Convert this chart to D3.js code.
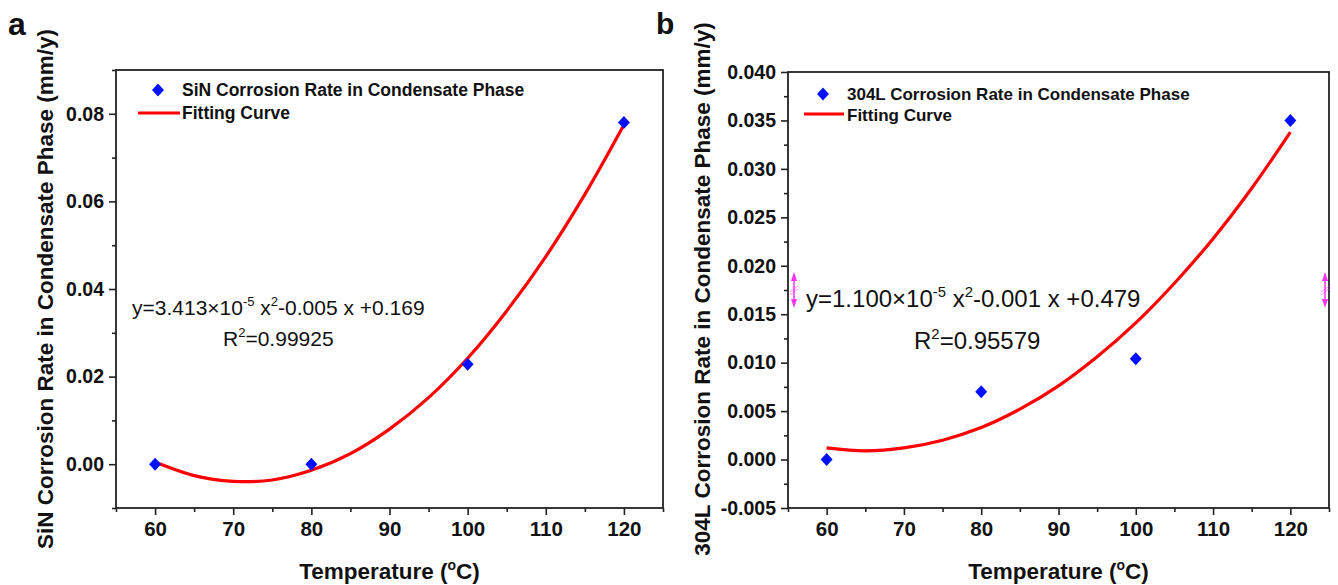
<!DOCTYPE html>
<html>
<head>
<meta charset="utf-8">
<script src="https://cdn.jsdelivr.net/npm/d3@7"></script>
<style>
  body { margin: 0; background: #fff; }
  svg text { font-family: "Liberation Sans", Arial, sans-serif; fill: #111; }
</style>
</head>
<body>
<div id="plot"></div>
<script>
var tempC = [60, 80, 100, 120];
var sinRate = [0.000, 0.000, 0.0228, 0.0780];
var l304Rate = [0.000, 0.0070, 0.0104, 0.0350];

// fitting curves, read every 5 degrees
var fitTemp = [60, 65, 70, 75, 80, 85, 90, 95, 100, 105, 110, 115, 120];
var sinFit = [0.0005, -0.0026, -0.0039, -0.0036, -0.0014, 0.0024, 0.0080, 0.0152, 0.0242, 0.0350, 0.0474, 0.0616, 0.0775];
var l304Fit = [0.0012, 0.0009, 0.0012, 0.0020, 0.0033, 0.0052, 0.0076, 0.0106, 0.0141, 0.0182, 0.0228, 0.0280, 0.0338];

// ticks
var xTicks = [60, 70, 80, 90, 100, 110, 120];
var xMinor = [55, 65, 75, 85, 95, 105, 115, 125];
var sinYTicks = [0.00, 0.02, 0.04, 0.06, 0.08];
var sinYMinor = [-0.01, 0.01, 0.03, 0.05, 0.07, 0.09];
var l304YTicks = [-0.005, 0.000, 0.005, 0.010, 0.015, 0.020, 0.025, 0.030, 0.035, 0.040];
var l304YMinor = [-0.0025, 0.0025, 0.0075, 0.0125, 0.0175, 0.0225, 0.0275, 0.0325, 0.0375];

var svg = d3.select('#plot')
  .append('svg')
  .attr('width', 1338)
  .attr('height', 585);

var panels = [
  {letter: 'a', lx: 8, ly: 35, lsize: 32,
   left: 116, right: 663, top: 70, bottom: 508,
   yDomain: [-0.01, 0.09], yTicks: sinYTicks, yMinor: sinYMinor, dec: 2,
   values: sinRate, fit: sinFit,
   ylabel: 'SiN Corrosion Rate in Condensate Phase (mm/y)', ylx: 45,
   legend: 'SiN Corrosion Rate in Condensate Phase', legSize: 17.5,
   legDiamond: [158, 90], legLine: [138, 180, 113], legText: 182, legY2: 113,
   eq: ['y=3.413\u00d710', '-5', ' x', '2', '-0.005 x +0.169'], eqX: 132, eqY: 315, eqSize: 21,
   r2: '0.99925', r2X: 223, r2Y: 346},
  {letter: 'b', lx: 656, ly: 34, lsize: 30,
   left: 788, right: 1329, top: 72, bottom: 508,
   yDomain: [-0.005, 0.040], yTicks: l304YTicks, yMinor: l304YMinor, dec: 3,
   values: l304Rate, fit: l304Fit,
   ylabel: '304L Corrosion Rate in Condensate Phase (mm/y)', ylx: 702,
   legend: '304L Corrosion Rate in Condensate Phase', legSize: 17,
   legDiamond: [823, 94], legLine: [804, 844, 114], legText: 847, legY2: 115,
   eq: ['y=1.100\u00d710', '-5', ' x', '2', '-0.001 x +0.479'], eqX: 806, eqY: 307, eqSize: 24,
   r2: '0.95579', r2X: 914, r2Y: 349}
];

function diamond(s) {
  return 'M0,' + (-s) + 'L' + (s * 0.92) + ',0L0,' + s + 'L' + (-s * 0.92) + ',0Z';
}

// text with superscript pieces: parts alternate normal / superscript
function supText(sel, parts, size) {
  var shift = size * 0.42;
  parts.forEach(function(p, i) {
    var sup = i % 2 === 1;
    sel.append('tspan')
      .attr('font-size', sup ? size * 0.62 : size)
      .attr('dy', i === 0 ? 0 : (sup ? -shift : shift))
      .text(p);
  });
}

panels.forEach(function(p) {
  var x = d3.scaleLinear().domain([55, 125]).range([p.left, p.right]);
  var y = d3.scaleLinear().domain(p.yDomain).range([p.bottom, p.top]);
  var g = svg.append('g');

  // panel letter
  g.append('text')
    .attr('x', p.lx).attr('y', p.ly)
    .attr('font-size', p.lsize).attr('font-weight', 'bold')
    .text(p.letter);

  // axes
  var xAxis = g.append('g')
    .attr('transform', 'translate(0,' + p.bottom + ')')
    .call(d3.axisBottom(x).tickValues(xTicks).tickSize(7).tickPadding(6).tickFormat(d3.format('d')));
  g.append('g')
    .attr('transform', 'translate(0,' + p.bottom + ')')
    .call(d3.axisBottom(x).tickValues(xMinor).tickSize(4).tickFormat(''));
  var yAxis = g.append('g')
    .attr('transform', 'translate(' + p.left + ',0)')
    .call(d3.axisLeft(y).tickValues(p.yTicks).tickSize(7).tickPadding(5)
      .tickFormat(function(d) { return d.toFixed(p.dec); }));
  g.append('g')
    .attr('transform', 'translate(' + p.left + ',0)')
    .call(d3.axisLeft(y).tickValues(p.yMinor).tickSize(4).tickFormat(''));

  g.selectAll('.domain').remove();
  g.selectAll('.tick line').attr('stroke', '#222').attr('stroke-width', 1.6);
  xAxis.selectAll('text')
    .attr('font-size', 20.5).attr('font-weight', 'bold')
    .attr('font-family', '"Liberation Sans", Arial, sans-serif').attr('fill', '#111');
  yAxis.selectAll('text')
    .attr('font-size', 19.5).attr('font-weight', 'bold')
    .attr('font-family', '"Liberation Sans", Arial, sans-serif').attr('fill', '#111');

  // frame
  g.append('rect')
    .attr('x', p.left).attr('y', p.top)
    .attr('width', p.right - p.left).attr('height', p.bottom - p.top)
    .attr('fill', 'none').attr('stroke', '#222').attr('stroke-width', 1.8);

  // axis titles
  var xt = g.append('text')
    .attr('x', (p.left + p.right) / 2).attr('y', 579)
    .attr('text-anchor', 'middle')
    .attr('font-size', 22.5).attr('font-weight', 'bold');
  supText(xt, ['Temperature (', 'o', 'C)'], 22.5);

  g.append('text')
    .attr('transform', 'translate(' + p.ylx + ',' + 289 + ') rotate(-90)')
    .attr('text-anchor', 'middle').attr('dominant-baseline', 'central')
    .attr('font-size', 22.5).attr('font-weight', 'bold')
    .text(p.ylabel);

  // fitting curve
  var line = d3.line()
    .x(function(d, i) { return x(fitTemp[i]); })
    .y(function(d) { return y(d); })
    .curve(d3.curveCatmullRom);
  g.append('path')
    .datum(p.fit)
    .attr('d', line)
    .attr('fill', 'none').attr('stroke', '#f00').attr('stroke-width', 3.2);

  // data points
  g.selectAll('.pt')
    .data(p.values)
    .enter().append('path')
    .attr('class', 'pt')
    .attr('transform', function(d, i) { return 'translate(' + x(tempC[i]) + ',' + y(d) + ')'; })
    .attr('d', diamond(6.5))
    .attr('fill', '#0010ff');

  // legend
  g.append('path')
    .attr('transform', 'translate(' + p.legDiamond[0] + ',' + p.legDiamond[1] + ')')
    .attr('d', diamond(6.5)).attr('fill', '#0010ff');
  g.append('text')
    .attr('x', p.legText).attr('y', p.legDiamond[1])
    .attr('dominant-baseline', 'central')
    .attr('font-size', p.legSize).attr('font-weight', 'bold')
    .text(p.legend);
  g.append('line')
    .attr('x1', p.legLine[0]).attr('x2', p.legLine[1])
    .attr('y1', p.legLine[2]).attr('y2', p.legLine[2])
    .attr('stroke', '#f00').attr('stroke-width', 3.2);
  g.append('text')
    .attr('x', p.legText).attr('y', p.legY2)
    .attr('dominant-baseline', 'central')
    .attr('font-size', p.legSize).attr('font-weight', 'bold')
    .text('Fitting Curve');

  // equation
  var eq = g.append('text')
    .attr('x', p.eqX).attr('y', p.eqY)
    .attr('font-size', p.eqSize);
  supText(eq, p.eq, p.eqSize);
  var r2 = g.append('text')
    .attr('x', p.r2X).attr('y', p.r2Y)
    .attr('font-size', p.eqSize);
  supText(r2, ['R', '2', '=' + p.r2], p.eqSize);
});

// small magenta layer markers on panel b
[794, 1325].forEach(function(mx) {
  var m = svg.append('g').attr('stroke', '#ff33ff').attr('fill', '#ff33ff');
  m.append('line').attr('x1', mx).attr('x2', mx).attr('y1', 276).attr('y2', 304).attr('stroke-width', 1.5);
  m.append('path').attr('d', 'M' + (mx - 3) + ',281L' + mx + ',272L' + (mx + 3) + ',281Z').attr('stroke', 'none');
  m.append('path').attr('d', 'M' + (mx - 3) + ',299L' + mx + ',308L' + (mx + 3) + ',299Z').attr('stroke', 'none');
  m.append('line').attr('x1', mx - 4).attr('x2', mx + 4).attr('y1', 292).attr('y2', 286).attr('stroke-width', 1).attr('stroke-opacity', 0.6);
  m.append('line').attr('x1', mx - 4).attr('x2', mx + 4).attr('y1', 295).attr('y2', 289).attr('stroke-width', 1).attr('stroke-opacity', 0.6);
});
</script>
</body>
</html>
